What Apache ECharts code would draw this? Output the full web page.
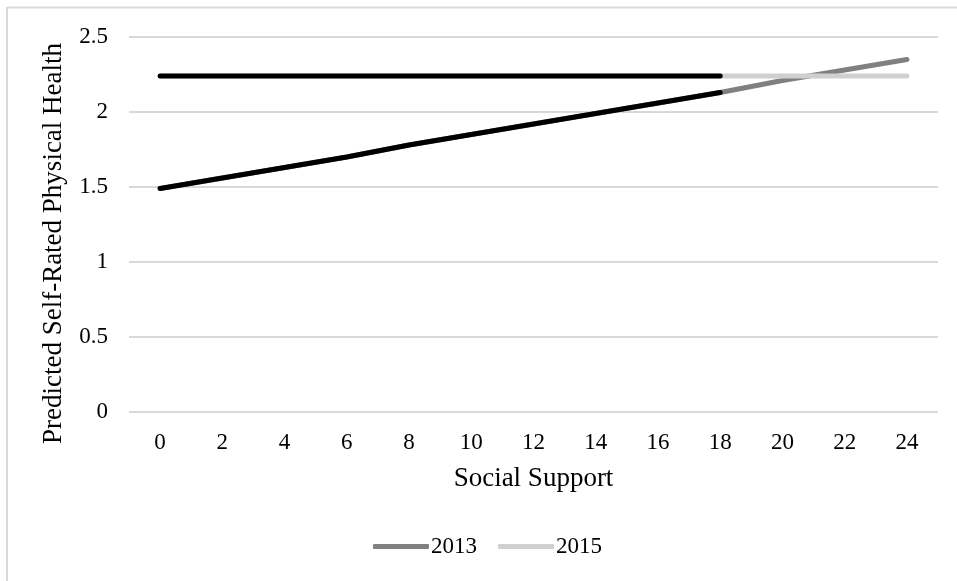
<!DOCTYPE html>
<html><head><meta charset="utf-8">
<script src="https://cdn.jsdelivr.net/npm/echarts@6/dist/echarts.min.js"></script>
<style>html,body{margin:0;padding:0;background:#fff;}#c{width:957px;height:581px;}</style>
</head><body><div id="c"></div>
<script>
const categories = ['0','2','4','6','8','10','12','14','16','18','20','22','24'];
const series2013 = [1.49,1.56,1.63,1.70,1.78,1.85,1.92,1.99,2.06,2.13,2.21,2.28,2.35];
const series2015 = [2.24,2.24,2.24,2.24,2.24,2.24,2.24,2.24,2.24,2.24,2.24,2.24,2.24];
const highlightCount = 10; // 0..18 drawn in black
const yTicks = [0,0.5,1,1.5,2,2.5];

const font = 'Liberation Serif, Times New Roman, serif';
const cut = arr => arr.map((v,i)=> i < highlightCount ? v : null);
const chart = echarts.init(document.getElementById('c'));
chart.setOption({
  animation:false,
  backgroundColor:'#fff',
  graphic:[
    {type:'line',shape:{x1:7,y1:7.5,x2:957,y2:7.5},style:{stroke:'#d9d9d9',lineWidth:2},silent:true},
    {type:'line',shape:{x1:7,y1:7,x2:7,y2:581},style:{stroke:'#d9d9d9',lineWidth:2},silent:true}
  ],
  grid:{left:129,right:19,top:37,bottom:169,containLabel:false},
  legend:{
    data:['2013','2015'],bottom:18,left:368,itemWidth:56,itemHeight:5,itemGap:21,
    textStyle:{fontFamily:font,fontSize:23,color:'#000',padding:[0,0,0,-3]},
    icon:'roundRect'
  },
  xAxis:{
    type:'category',data:categories,boundaryGap:true,
    name:'Social Support',nameLocation:'middle',nameGap:53,
    nameTextStyle:{fontFamily:font,fontSize:27,color:'#000'},
    axisLine:{show:false},axisTick:{show:false},
    axisLabel:{fontFamily:font,fontSize:23,color:'#000',margin:19}
  },
  yAxis:{
    type:'value',min:0,max:2.5,interval:0.5,
    name:'Predicted Self-Rated Physical Health',nameLocation:'middle',nameGap:62,
    nameTextStyle:{fontFamily:font,fontSize:27,color:'#000',padding:[0,38,0,0]},
    axisLine:{show:false},axisTick:{show:false},
    axisLabel:{fontFamily:font,fontSize:23,color:'#000',margin:21,
      formatter:v=> yTicks.includes(v) ? String(v) : ''},
    splitLine:{lineStyle:{color:'#d9d9d9',width:2}}
  },
  series:[
    {name:'2013',type:'line',data:series2013,symbol:'none',color:'#808080',
      lineStyle:{width:5,color:'#808080',cap:'round'},z:2},
    {name:'2015',type:'line',data:series2015,symbol:'none',color:'#d0d0d0',
      lineStyle:{width:5,color:'#d0d0d0',cap:'round'},z:2},
    {name:'2013b',type:'line',data:cut(series2013),symbol:'none',
      lineStyle:{width:5,color:'#000',cap:'round'},z:3},
    {name:'2015b',type:'line',data:cut(series2015),symbol:'none',
      lineStyle:{width:5,color:'#000',cap:'round'},z:3}
  ]
});
</script></body></html>
